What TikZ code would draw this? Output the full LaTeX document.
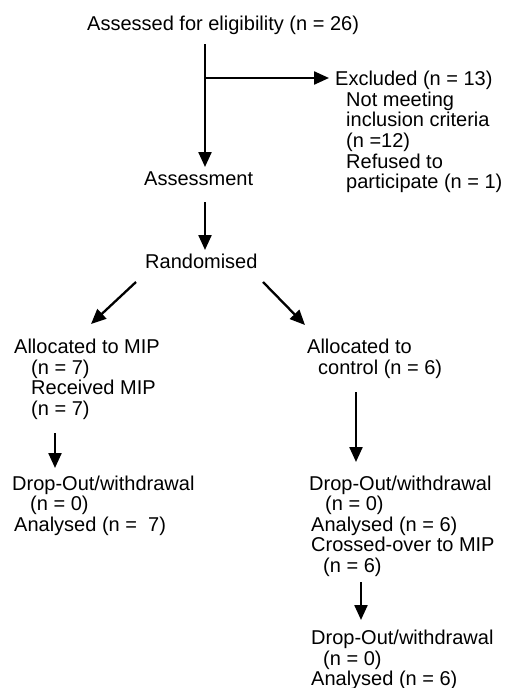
\documentclass[tikz,border=0pt]{standalone}
\usepackage{fontspec}
\setmainfont{Liberation Sans}
\usetikzlibrary{arrows.meta}
\begin{document}
\begin{tikzpicture}[x=1pt,y=-1pt,
  txt/.style={anchor=base west,inner sep=0pt,font=\fontsize{20}{20.7}\selectfont},
  arr/.style={line width=2.3pt,-{Triangle[length=15pt,width=13pt]}}]
\useasboundingbox (0,0) rectangle (506,688);
% texts
\node[txt] (elig) at (87,30) {Assessed for eligibility (n = 26)};
\node[txt] (exc1) at (335,85) {Excluded (n = 13)};
\node[txt] (exc2) at (346,106) {Not meeting};
\node[txt] (exc3) at (346,126) {inclusion criteria};
\node[txt] (exc4) at (346,147) {(n =12)};
\node[txt] (exc5) at (346,168) {Refused to};
\node[txt] (exc6) at (346,188) {participate (n = 1)};
\node[txt] (assess) at (144,185) {Assessment};
\node[txt] (rand) at (145,268) {Randomised};
\node[txt] (mip1) at (14,353) {Allocated to MIP};
\node[txt] (mip2) at (31,374) {(n = 7)};
\node[txt] (mip3) at (31,394) {Received MIP};
\node[txt] (mip4) at (31,415) {(n = 7)};
\node[txt] (con1) at (307,353) {Allocated to};
\node[txt] (con2) at (318,374) {control (n = 6)};
\node[txt] (ld1) at (12,490) {Drop-Out/withdrawal};
\node[txt] (ld2) at (30,510) {(n = 0)};
\node[txt] (ld3) at (14,531) {Analysed (n = \ 7)};
\node[txt] (rd1) at (309,490) {Drop-Out/withdrawal};
\node[txt] (rd2) at (325,510) {(n = 0)};
\node[txt] (rd3) at (311,531) {Analysed (n = 6)};
\node[txt] (rd4) at (311,551) {Crossed-over to MIP};
\node[txt] (rd5) at (323,572) {(n = 6)};
\node[txt] (fd1) at (311,644) {Drop-Out/withdrawal};
\node[txt] (fd2) at (323,665) {(n = 0)};
\node[txt] (fd3) at (311,685) {Analysed (n = 6)};
% connector coordinates
\coordinate (a1s) at (205,44);
\coordinate (a1e) at (205,167);
\coordinate (br) at (205,78);
\coordinate (bre) at (329,78);
\coordinate (a2s) at (205,202);
\coordinate (a2e) at (205,250);
\coordinate (a3s) at (136,282);
\coordinate (a3e) at (91,324);
\coordinate (a4s) at (263,282);
\coordinate (a4e) at (305,325);
\coordinate (a5s) at (55,433);
\coordinate (a5e) at (55,468);
\coordinate (a6s) at (356,392);
\coordinate (a6e) at (356,462);
\coordinate (a7s) at (361,582);
\coordinate (a7e) at (361,620);
% connectors
\draw[arr] (a1s) -- (a1e);
\draw[arr] (br) -- (bre);
\draw[arr] (a2s) -- (a2e);
\draw[arr] (a3s) -- (a3e);
\draw[arr] (a4s) -- (a4e);
\draw[arr] (a5s) -- (a5e);
\draw[arr] (a6s) -- (a6e);
\draw[arr] (a7s) -- (a7e);
\end{tikzpicture}
\end{document}
